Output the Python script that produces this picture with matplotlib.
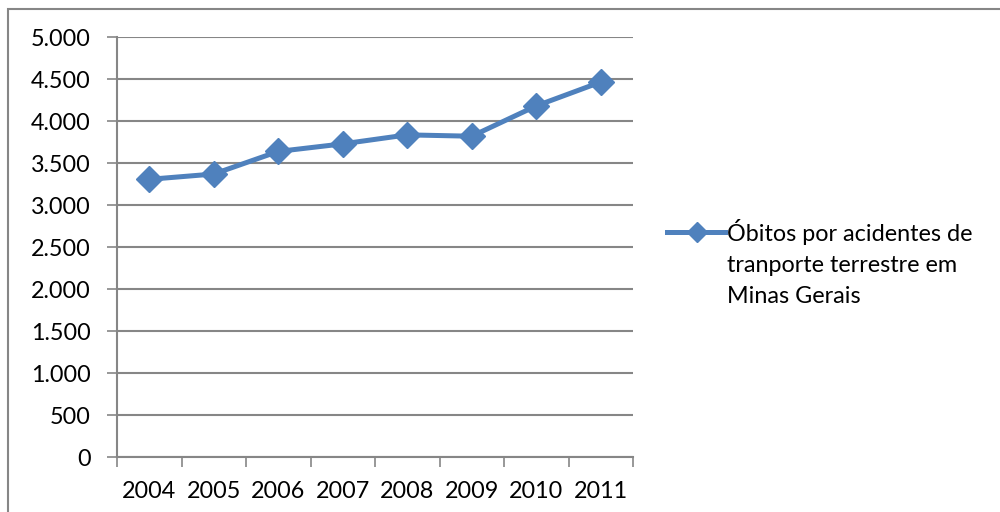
import matplotlib.pyplot as plt
from matplotlib.patches import Rectangle
from matplotlib.lines import Line2D
from matplotlib.ticker import FuncFormatter

anos = ['2004', '2005', '2006', '2007', '2008', '2009', '2010', '2011']
obitos = [3306, 3369, 3638, 3728, 3835, 3819, 4180, 4464]
serie = 'Óbitos por acidentes de\ntranporte terrestre em\nMinas Gerais'

plt.rcParams['font.family'] = ['Lato', 'DejaVu Sans']
cinza = '#868686'
azul = '#4F81BD'
fs = 16.8

fig = plt.figure(figsize=(10, 5.12), dpi=100)
ax = fig.add_axes([0.117, 0.1074, 0.516, 0.8203])

x = [i + 0.5 for i in range(len(anos))]
ax.plot(x, obitos, color=azul, lw=3.6, marker='D', markersize=13,
        markeredgecolor=azul, markerfacecolor=azul, zorder=3)

ax.set_xlim(0, len(anos))
ax.set_ylim(0, 5000)
ax.set_yticks(range(0, 5001, 500))
ax.yaxis.set_major_formatter(FuncFormatter(lambda v, p: f'{int(v):,}'.replace(',', '.')))
ax.grid(axis='y', color=cinza, lw=1.5)
ax.set_axisbelow(True)

# categorias: marcas nas divisas, rótulos no centro
ax.set_xticks(range(len(anos) + 1))
ax.set_xticklabels([])
ax.set_xticks(x, minor=True)
ax.set_xticklabels(anos, minor=True)
ax.tick_params(axis='x', which='minor', length=0, pad=17, labelsize=fs)
ax.tick_params(axis='x', which='major', length=7, width=1.2, color=cinza)
ax.tick_params(axis='y', length=7, width=1.2, color=cinza, pad=12, labelsize=fs)

for s in ['top', 'right']:
    ax.spines[s].set_visible(False)
for s in ['left', 'bottom']:
    ax.spines[s].set_color(cinza)
    ax.spines[s].set_linewidth(1.5)

# legenda ao lado, com a amostra alinhada à primeira linha
ly = 1 - 232 / 512
fig.add_artist(Line2D([667 / 1000, 725 / 1000], [ly, ly], color=azul, lw=3.6,
                      transform=fig.transFigure))
fig.add_artist(Line2D([697 / 1000], [ly], color=azul, marker='D', markersize=10,
                      transform=fig.transFigure))
fig.text(727 / 1000, 1 - 219 / 512, serie, fontsize=fs, va='top', ha='left',
         linespacing=1.6)

# moldura do gráfico
fig.patches.append(Rectangle((8 / 1000, -0.1), 1.2, 1 - 9 / 512 + 0.1,
                             transform=fig.transFigure, fill=False,
                             edgecolor=cinza, lw=1.5))

fig.savefig('out.png', dpi=100)
